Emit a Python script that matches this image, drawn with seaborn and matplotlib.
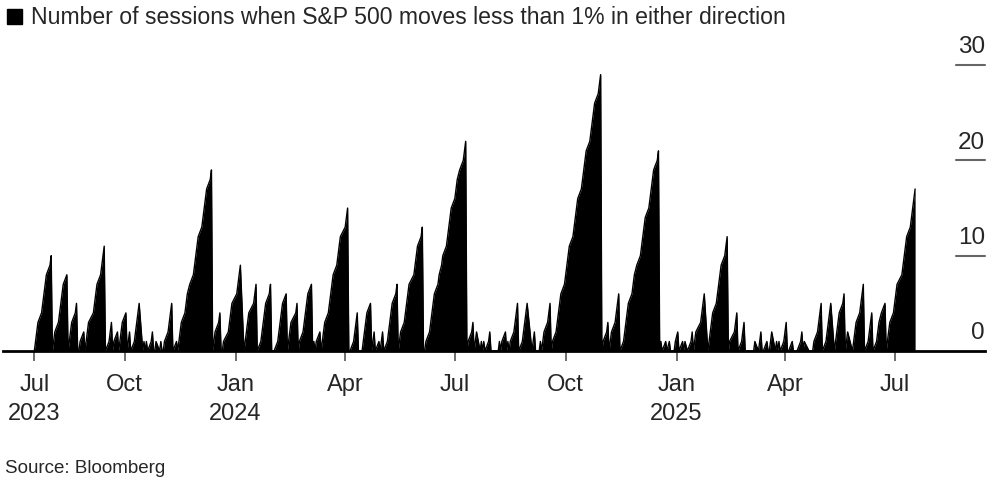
import pandas as pd
import numpy as np
import matplotlib.pyplot as plt
import matplotlib.transforms as mtransforms
from matplotlib.patches import Rectangle
import seaborn as sns

# trading calendar of the two-year window
start_date = "2023-07-18"
market_holidays = [
    "2023-09-04", "2023-11-23", "2023-12-25",
    "2024-01-01", "2024-01-15", "2024-02-19", "2024-03-29", "2024-05-27",
    "2024-06-19", "2024-07-04", "2024-09-02", "2024-11-28", "2024-12-25",
    "2025-01-01", "2025-01-09", "2025-01-20", "2025-02-17", "2025-04-18",
    "2025-05-26", "2025-06-19", "2025-07-04",
]

# streaks: length of each calm streak and the number of
# >1% sessions (value 0) that follow it
lead_zeros = 1
streak_peaks = [
    10, 8, 5, 2, 11, 3, 2, 4, 2, 5, 1, 1, 2, 1, 1, 5, 1, 19, 4,      # 2023
    9, 7, 7, 6, 5, 7, 1, 2, 15, 4, 5, 2, 1, 2, 7, 13, 22, 3, 2, 1,   # 2024 H1
    1, 2, 1, 2, 1, 5, 5, 2, 1, 5, 29, 3, 6, 21, 1, 1, 1,             # 2024 H2
    2, 1, 1, 2, 6, 12, 4, 3, 1, 2, 1, 2, 1, 1, 3, 1, 2, 1,           # 2025 Q1
    5, 5, 6, 2, 7, 4, 5, 17,                                        # 2025 Q2-Q3
]
zeros_after = [
    1, 1, 2, 1, 1, 1, 1, 1, 1, 1, 1, 1, 2, 1, 2, 1, 1, 1, 2,
    1, 1, 3, 1, 1, 1, 1, 1, 2, 2, 1, 1, 1, 1, 1, 2, 1, 1, 1, 1,
    1, 5, 1, 1, 1, 1, 1, 2, 1, 1, 1, 1, 1, 1, 1, 1, 2,
    1, 1, 1, 1, 1, 1, 1, 6, 1, 2, 2, 1, 1, 1, 2, 4, 1, 4,
    1, 1, 1, 1, 1, 1, 1, 0,
]

x_tick_dates = ["2023-07-18", "2023-10-01", "2024-01-01", "2024-04-01", "2024-07-01",
                "2024-10-01", "2025-01-01", "2025-04-01", "2025-07-01"]
x_tick_labels = ["Jul\n2023", "Oct", "Jan\n2024", "Apr", "Jul", "Oct", "Jan\n2025", "Apr", "Jul"]
y_ticks = [0, 10, 20, 30]

title = "Number of sessions when S&P 500 moves less than 1% in either direction"
source = "Source: Bloomberg"

# daily streak counter
values = [0] * lead_zeros
for peak, zeros in zip(streak_peaks, zeros_after):
    values += list(range(1, peak + 1)) + [0] * zeros

bday = pd.offsets.CustomBusinessDay(holidays=market_holidays)
dates = pd.date_range(start_date, periods=len(values), freq=bday)
df = pd.DataFrame({"date": dates, "sessions": values})

sns.set_theme(style="white")
plt.rcParams["font.family"] = ["Liberation Sans", "DejaVu Sans"]

W, H = 990, 489
fig = plt.figure(figsize=(W / 100, H / 100), dpi=100)
ax = fig.add_axes([3 / W, (H - 352) / H, 982 / W, 312 / H])

ax.fill_between(df["date"], df["sessions"], 0, color="black", lw=0)
sns.lineplot(data=df, x="date", y="sessions", ax=ax, color="black", lw=1.0)

ax.set_xlim(pd.Timestamp("2023-06-22"), pd.Timestamp("2025-09-14"))
ax.set_ylim(0, 312 / 9.53)
ax.set_xlabel("")
ax.set_ylabel("")

for s in ["top", "left", "right"]:
    ax.spines[s].set_visible(False)
ax.spines["bottom"].set_color("black")
ax.spines["bottom"].set_linewidth(2)

ax.set_yticks([])
ax.set_xticks(pd.to_datetime(x_tick_dates))
ax.set_xticklabels(x_tick_labels, fontsize=17, linespacing=1.4)
ax.tick_params(axis="x", length=7, width=1.2, color="#555555", pad=9, bottom=True)

# value labels on the right, sitting above short rules
trans = mtransforms.blended_transform_factory(ax.transAxes, ax.transData)
for v in y_ticks:
    ax.text(1.0, v + 1.35, str(v), transform=trans, ha="right", va="baseline", fontsize=17.5)
    if v > 0:
        ax.plot([0.9705, 1.0], [v, v], transform=trans, color="#666666", lw=1.5, clip_on=False)

# title with black square marker
fig.patches.append(Rectangle((7 / W, 1 - 25 / H), 15 / W, 15 / H,
                             transform=fig.transFigure, color="black"))
fig.text(31 / W, 1 - 18 / H, title, va="center", ha="left", fontsize=16.6)
fig.text(5 / W, 1 - 469 / H, source, va="center", ha="left", fontsize=13.5)

fig.savefig("out.png", dpi=100)
